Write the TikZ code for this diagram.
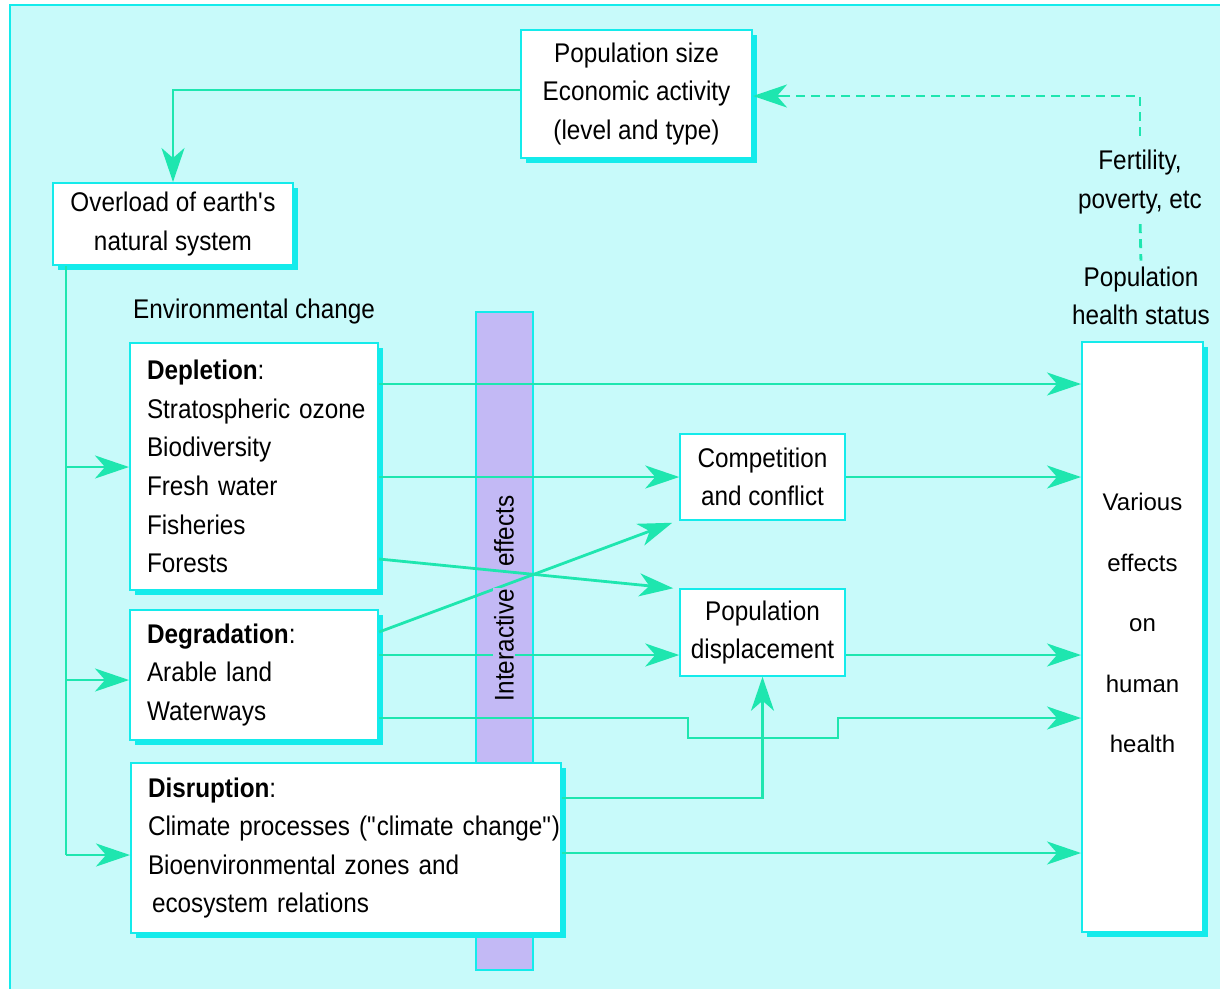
\documentclass[tikz,border=0pt]{standalone}
\usepackage{fontspec}
\setmainfont{Liberation Sans}[FakeStretch=0.9]
\newfontfamily\widefont{Liberation Sans}
\usetikzlibrary{arrows.meta,shadows}
\definecolor{bgc}{RGB}{200,250,250}
\definecolor{bord}{RGB}{20,235,235}
\definecolor{arrc}{RGB}{30,230,175}
\definecolor{barc}{RGB}{195,185,245}
\newcommand{\dq}{\XeTeXglyph\XeTeXcharglyph"0022\relax}
\newcommand{\sq}{\XeTeXglyph\XeTeXcharglyph"0027\relax}
\tikzset{
  txt/.style={font=\fontsize{27}{38.6}\selectfont, text=black},
  box/.style={txt, draw=bord, line width=2pt, fill=white, inner sep=0pt},
  shadowbox/.style={drop shadow={shadow xshift=4.5pt, shadow yshift=-4.5pt, fill=bord, opacity=1}},
  leftbox/.style={box, shadowbox, align=left, inner xsep=17pt, inner ysep=0pt},
  plainbox/.style={box, line width=1.5pt, align=center},
  conn/.style={draw=arrc, line width=2.8pt},
  arr/.style={conn, -{Stealth[length=34pt,width=23pt,inset=10pt]}},
  dasharr/.style={conn, dash pattern=on 9pt off 6pt},
}
\begin{document}
\begin{tikzpicture}[x=1pt,y=-1pt]
\useasboundingbox (0,0) rectangle (1220,989);
\fill[white] (0,0) rectangle (1220,989);
\fill[bgc] (10,5) rectangle (1220,989);
\draw[bord, line width=2pt] (10,989) -- (10,5) -- (1220,5);

% interactive effects bar
\node[draw=bord, fill=barc, line width=1.5pt, minimum width=57pt, minimum height=658pt, inner sep=0pt] (bar) at (504.5,641) {};

% boxes
\node[box, shadowbox, align=center, minimum width=231pt, minimum height=128pt] (pop) at (636.5,94) {Population size\\Economic activity\\(level and type)};
\node[box, shadowbox, align=center, minimum width=240pt, minimum height=82pt] (over) at (173,224) {Overload of earth\sq s\\natural system};
\node[leftbox, text width=214pt, minimum height=247pt] (depl) at (254,466.5) {\textbf{Depletion}:\\\mbox{Stratospheric ozone}\\Biodiversity\\\mbox{Fresh water}\\Fisheries\\Forests};
\node[leftbox, text width=214pt, minimum height=130pt] (degr) at (254,675) {\textbf{Degradation}:\\\mbox{Arable land}\\Waterways};
\node[leftbox, text width=396pt, minimum height=170pt] (disr) at (346,848) {\textbf{Disruption}:\\\mbox{Climate processes (\dq climate change\dq)}\\\mbox{Bioenvironmental zones and}\\\mbox{\hspace*{4pt}ecosystem relations}};
\node[plainbox, minimum width=165pt, minimum height=86pt] (comp) at (762.5,477) {Competition\\and conflict};
\node[plainbox, minimum width=165pt, minimum height=87pt] (pdis) at (762.5,632.5) {Population\\displacement};
\node[box, shadowbox, minimum width=121pt, minimum height=590pt] (health) at (1142.5,637) {};
\node[font=\widefont\fontsize{24}{60.5}\selectfont, align=center, inner sep=0pt] (healthtxt) at (1142.5,623) {Various\\effects\\on\\human\\health};

% labels
\node[txt, anchor=west, inner sep=0pt] (env) at (133,312) {Environmental change};
\node[txt, align=center, inner sep=2pt] (fert) at (1140,182) {Fertility,\\poverty, etc};
\node[txt, align=center, inner sep=2pt] (hstat) at (1141,296) {Population\\health status};

% helper coordinates
\coordinate (xl) at (66,0);
\coordinate (y90) at (0,90);
\coordinate (y96) at (0,96);
\coordinate (y384) at (0,384);
\coordinate (y467) at (0,467);
\coordinate (y559) at (0,559);
\coordinate (y632) at (0,632);
\coordinate (y655) at (0,655);
\coordinate (y680) at (0,680);
\coordinate (y718) at (0,718);
\coordinate (y798) at (0,798);
\coordinate (y853) at (0,853);
\coordinate (y855) at (0,855);
\coordinate (wa) at (688,738);
\coordinate (wb) at (838,738);

% connectors
\draw[arr] (pop.west |- y90) -| (over.north);
\draw[dasharr, shorten <=12pt] (fert.north) -- (fert.north |- y96) -- ([xshift=30pt]pop.east |- y96);
\draw[arr] ([xshift=30pt]pop.east |- y96) -- (pop.east |- y96);
\draw[dasharr, shorten <=8pt, shorten >=4pt] (fert.south) -- (hstat.north);

\draw[conn] (over.south -| xl) -- (xl |- y855);
\draw[arr] (xl |- y467) -- (depl.west |- y467);
\draw[arr] (xl |- y680) -- (degr.west |- y680);
\draw[arr] (xl |- y855) -- (disr.west |- y855);

\draw[arr] (depl.east |- y384) -- (health.west |- y384);
\draw[arr] (depl.east |- comp.west) -- (comp.west);
\draw[arr] (comp.east) -- (health.west |- comp.east);
\draw[arr] (depl.east |- y559) -- ([xshift=-6pt]pdis.north west);
\draw[arr] (degr.east |- y632) -- ([xshift=-7pt,yshift=-2pt]comp.south west);
\draw[arr] (degr.east |- y655) -- (pdis.west |- y655);
\draw[arr] (pdis.east |- y655) -- (health.west |- y655);
\draw[arr] (degr.east |- y718) -- (wa |- y718) -- (wa) -- (wb) -- (wb |- y718) -- (health.west |- y718);
\draw[arr] (disr.east |- y798) -| (pdis.south);
\draw[arr] (disr.east |- y853) -- (health.west |- y853);

% interactive effects text
\node[txt, rotate=90, fill=barc, inner sep=1pt] (inter) at (504,645) {Interactive};
\node[txt, rotate=90, inner sep=0pt] (effects) at (504,531) {effects};
\end{tikzpicture}
\end{document}
